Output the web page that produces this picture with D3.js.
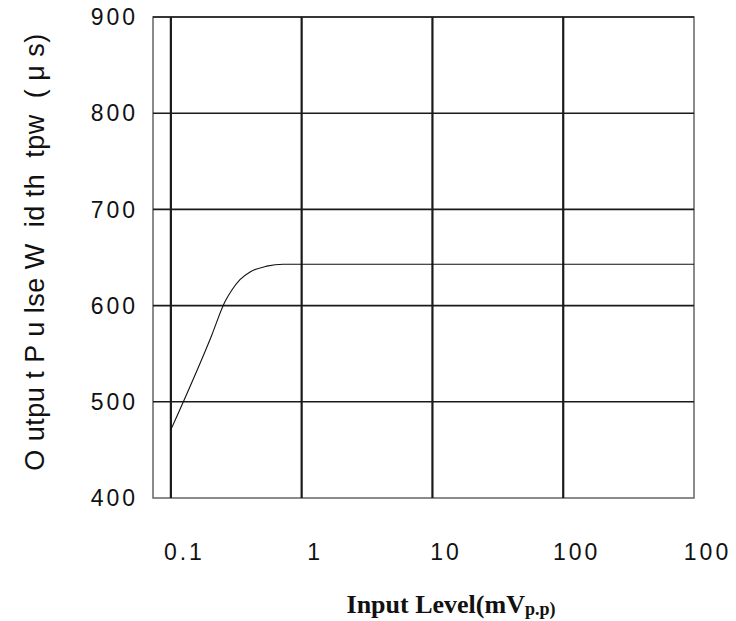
<!DOCTYPE html>
<html>
<head>
<meta charset="utf-8">
<script src="https://cdn.jsdelivr.net/npm/d3@7"></script>
<style>
  html, body { margin: 0; padding: 0; background: #fff; }
  svg { display: block; }
</style>
</head>
<body>
<div id="chart"></div>
<script>
// ---- data ----
const inputLevel = [0.1, 0.205, 0.259, 0.292, 0.3375, 0.403, 0.541, 0.724, 1000];
const pulseWidth = [471, 569, 604, 616, 627, 635, 641, 643, 643];
const xTickValues = [0.1, 1, 10, 100, 1000];
const xTickLabels = ["0.1", "1", "10", "100", "100"];
const yTickValues = [400, 500, 600, 700, 800, 900];
const yTitle = "O utpu t P u lse W  id th  tpw  ( μ s)";
const xTitleMain = "Input Level(mV";
const xTitleSub = "p.p)";

// ---- layout ----
const W = 736, H = 621;
const mLeft = 153, mRight = 694, mTop = 17, mBottom = 498;

const svg = d3.select("#chart").append("svg").attr("width", W).attr("height", H);

const x = d3.scaleLog().domain([0.073, 1000]).range([mLeft, mRight]);
const y = d3.scaleLinear().domain([400, 900]).range([mBottom, mTop]);

// frame
svg.append("rect")
  .attr("x", mLeft).attr("y", mTop)
  .attr("width", mRight - mLeft).attr("height", mBottom - mTop)
  .attr("fill", "none").attr("stroke", "#6e6e6e").attr("stroke-width", 1.6);

// horizontal grid
svg.append("g").selectAll("line")
  .data(yTickValues.filter(v => v > 400))
  .join("line")
  .attr("x1", mLeft).attr("x2", mRight)
  .attr("y1", d => y(d)).attr("y2", d => y(d))
  .attr("stroke", "#1a1a1a").attr("stroke-width", 1.6);

// vertical grid
svg.append("g").selectAll("line")
  .data(xTickValues.filter(v => v < 1000))
  .join("line")
  .attr("x1", d => x(d)).attr("x2", d => x(d))
  .attr("y1", mTop).attr("y2", mBottom)
  .attr("stroke", "#1a1a1a").attr("stroke-width", 2.2);

// curve
const line = d3.line()
  .x((d, i) => x(inputLevel[i]))
  .y(d => y(d))
  .curve(d3.curveMonotoneX);
svg.append("path")
  .datum(pulseWidth)
  .attr("d", line)
  .attr("fill", "none").attr("stroke", "#111").attr("stroke-width", 1.1);

// y tick labels
svg.append("g").selectAll("text")
  .data(yTickValues)
  .join("text")
  .attr("x", 138).attr("y", d => y(d))
  .attr("dy", "0.36em")
  .attr("text-anchor", "end")
  .attr("font-family", "Liberation Sans, Arial, sans-serif")
  .attr("font-size", 23)
  .attr("letter-spacing", 3)
  .attr("fill", "#111")
  .text(d => d);

// x tick labels
svg.append("g").selectAll("text")
  .data(xTickValues)
  .join("text")
  .attr("x", (d, i) => x(d) + 13.5)
  .attr("y", 552)
  .attr("dy", "0.36em")
  .attr("text-anchor", "middle")
  .attr("font-family", "Liberation Sans, Arial, sans-serif")
  .attr("font-size", 23)
  .attr("letter-spacing", 3)
  .attr("fill", "#111")
  .text((d, i) => xTickLabels[i]);

// y title
svg.append("text")
  .attr("transform", "translate(44,252) rotate(-90)")
  .attr("text-anchor", "middle")
  .attr("font-family", "Liberation Sans, Arial, sans-serif")
  .attr("font-size", 27)
  .attr("letter-spacing", 0.5)
  .attr("fill", "#111")
  .style("white-space", "pre")
  .text(yTitle);

// x title
const xt = svg.append("text")
  .attr("x", 451).attr("y", 613)
  .attr("text-anchor", "middle")
  .attr("font-family", "Liberation Serif, Times New Roman, serif")
  .attr("font-weight", "bold")
  .attr("font-size", 26)
  .attr("fill", "#111");
xt.append("tspan").text(xTitleMain);
xt.append("tspan").attr("font-size", 18).attr("dy", 2).text(xTitleSub);
</script>
</body>
</html>
